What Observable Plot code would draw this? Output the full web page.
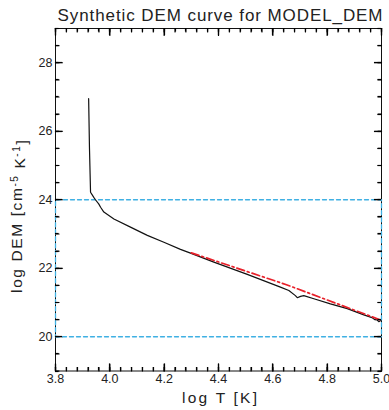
<!DOCTYPE html>
<html><head><meta charset="utf-8">
<script src="https://cdn.jsdelivr.net/npm/d3@7"></script>
<script src="https://cdn.jsdelivr.net/npm/@observablehq/plot@0.6"></script>
<style>body{margin:0;background:#fff} svg{display:block}</style>
</head><body><div id="chart"></div>
<script>
// DEM curve (log T, log DEM)
const logT   = [3.922, 3.925, 3.929, 3.941, 3.947, 3.959, 3.966, 3.978, 4.015, 4.076, 4.138, 4.199, 4.260, 4.297, 4.383, 4.506, 4.628, 4.659, 4.683, 4.690, 4.702, 4.714, 4.751, 4.812, 4.874, 4.935, 4.965, 4.975, 4.984, 4.990, 4.996];
const logDEM = [26.95, 25.53, 24.22, 24.07, 24.00, 23.88, 23.78, 23.64, 23.44, 23.20, 22.96, 22.76, 22.55, 22.44, 22.18, 21.82, 21.45, 21.35, 21.20, 21.14, 21.18, 21.20, 21.11, 20.96, 20.82, 20.64, 20.56, 20.50, 20.49, 20.44, 20.47];
// fitted power-law line (red dash-dot)
const fitT   = [4.30, 4.65, 5.00];
const fitDEM = [22.45, 21.52, 20.48];
// box (blue dashed)
const boxT   = [3.8, 5.0, 5.0, 3.8, 3.8];
const boxDEM = [20, 20, 24, 24, 20];
// axes
const xDomain = [3.8, 5.0];
const yDomain = [19, 29];
const xTicks = [3.8, 4.0, 4.2, 4.4, 4.6, 4.8, 5.0];
const xTickLabels = ["3.8", "4.0", "4.2", "4.4", "4.6", "4.8", "5.0"];
const yTicks = [20, 22, 24, 26, 28];
const yTickLabels = ["20", "22", "24", "26", "28"];
const xMinor = d3.range(0, 31).map(i => 3.8 + i * 0.04);
const yMinor = d3.range(0, 21).map(i => 19 + i * 0.5);

const title = "Synthetic DEM curve for MODEL_DEM";
const xLabel = "log T [K]";
const yLabel = "log DEM [cm-5 K-1]";

const curve = logT.map((t, i) => ({t, v: logDEM[i]}));
const fit = fitT.map((t, i) => ({t, v: fitDEM[i]}));
const box = boxT.map((t, i) => ({t, v: boxDEM[i]}));

const W = 389, H = 410, mL = 55, mR = 8, mT = 28, mB = 39.5;
const fw = W - mL - mR, fh = H - mT - mB;
const perPxX = (xDomain[1] - xDomain[0]) / fw;
const perPxY = (yDomain[1] - yDomain[0]) / fh;
const ink = "#222";

// inward tick segments on all four frame edges (length given in pixels)
function tickSegs(values, edge, len) {
  const segs = [];
  values.forEach((v, i) => {
    const id = edge + len + "_" + i;
    if (edge === "bottom") segs.push({t: v, v: yDomain[0], id}, {t: v, v: yDomain[0] + len * perPxY, id});
    if (edge === "top") segs.push({t: v, v: yDomain[1], id}, {t: v, v: yDomain[1] - len * perPxY, id});
    if (edge === "left") segs.push({t: xDomain[0], v, id}, {t: xDomain[0] + len * perPxX, v, id});
    if (edge === "right") segs.push({t: xDomain[1], v, id}, {t: xDomain[1] - len * perPxX, v, id});
  });
  return segs;
}
const tickData = [
  ...tickSegs(xTicks, "bottom", 7), ...tickSegs(xMinor, "bottom", 3.5),
  ...tickSegs(xTicks, "top", 7), ...tickSegs(xMinor, "top", 3.5),
  ...tickSegs(yTicks, "left", 7), ...tickSegs(yMinor, "left", 3.5),
  ...tickSegs(yTicks, "right", 7), ...tickSegs(yMinor, "right", 3.5)
];

const chart = Plot.plot({
  width: W, height: H,
  marginLeft: mL, marginRight: mR, marginTop: mT, marginBottom: mB,
  style: {fontFamily: "'Liberation Sans', Arial, sans-serif", fontSize: "12.5px", color: ink},
  x: {domain: xDomain},
  y: {domain: yDomain},
  marks: [
    Plot.frame({stroke: "#111"}),
    Plot.axisX(xTicks, {tickSize: 0, tickPadding: 3, tickFormat: d => xTickLabels[xTicks.indexOf(d)], label: null, fontSize: 12.5}),
    Plot.axisY(yTicks, {tickSize: 0, tickPadding: 3, tickFormat: d => yTickLabels[yTicks.indexOf(d)], label: null, fontSize: 12.5}),
    Plot.line(tickData, {x: "t", y: "v", z: "id", stroke: "#000", strokeWidth: 1.2}),
    Plot.line(box, {x: "t", y: "v", stroke: "#3fb0e3", strokeWidth: 1.3, strokeDasharray: "4,3"}),
    Plot.line(curve, {x: "t", y: "v", stroke: "#111", strokeWidth: 1.2}),
    Plot.line(fit, {x: "t", y: "v", stroke: "#e8202a", strokeWidth: 1.7, strokeDasharray: "8,3,2,3"}),
    Plot.text([title], {frameAnchor: "top", dx: 1.5, dy: -8, lineAnchor: "bottom", fontSize: 17, fill: ink}),
    Plot.text([xLabel], {frameAnchor: "bottom", dx: 1, dy: 21, lineAnchor: "top", fontSize: 15.5, fill: ink}),
    Plot.text([yLabel], {frameAnchor: "left", dx: -38, dy: 16, rotate: -90, textAnchor: "middle", lineAnchor: "middle", fontSize: 15.5, fill: ink})
  ]
});
document.getElementById("chart").appendChild(chart);

const svg = d3.select(chart);
svg.selectAll("text").each(function() {
  const t = this.textContent;
  const s = d3.select(this);
  if (t === title) s.attr("textLength", 325).attr("lengthAdjust", "spacing");
  if (t === xLabel) s.attr("textLength", 75).attr("lengthAdjust", "spacing");
  if (t === yLabel) {
    s.text(null);
    s.style("letter-spacing", "1.6px");
    s.append("tspan").text("log DEM [cm");
    s.append("tspan").attr("dy", "-0.45em").attr("font-size", "10px").text("-5");
    s.append("tspan").attr("dy", "0.45em").text(" K");
    s.append("tspan").attr("dy", "-0.45em").attr("font-size", "10px").text("-1");
    s.append("tspan").attr("dy", "0.45em").text("]");
  }
});

// backup tick layer placed with Plot's own scales (same positions as the tick marks above)
const sx = chart.scale("x"), sy = chart.scale("y");
const gT = svg.append("g").attr("stroke", "#000").attr("stroke-width", 1.2);
const x0 = sx.apply(xDomain[0]), x1 = sx.apply(xDomain[1]);
const y0 = sy.apply(yDomain[0]), y1 = sy.apply(yDomain[1]);
function seg(a, b, c, d) { gT.append("line").attr("x1", a).attr("y1", b).attr("x2", c).attr("y2", d); }
[[xTicks, 7], [xMinor, 3.5]].forEach(([vals, len]) => vals.forEach(v => {
  const px = Math.round(sx.apply(v)) + 0.5;
  seg(px, y0, px, y0 - len);
  seg(px, y1, px, y1 + len);
}));
[[yTicks, 7], [yMinor, 3.5]].forEach(([vals, len]) => vals.forEach(v => {
  const py = Math.round(sy.apply(v)) + 0.5;
  seg(x0, py, x0 + len, py);
  seg(x1, py, x1 - len, py);
}));
</script>
</body></html>
